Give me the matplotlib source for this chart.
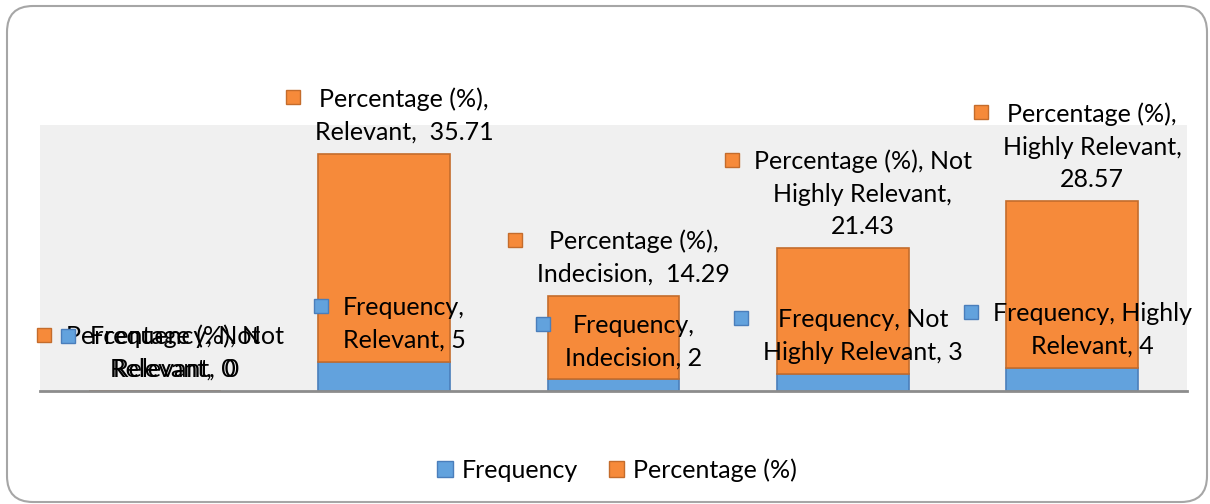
import textwrap
import matplotlib
matplotlib.use("Agg")
import matplotlib.pyplot as plt
from matplotlib.patches import Patch, Rectangle, FancyBboxPatch
from matplotlib.transforms import IdentityTransform

categories = ["Not Relevant", "Relevant", "Indecision", "Not Highly Relevant", "Highly Relevant"]
frequency = [0, 5, 2, 3, 4]
percentage = [0, 35.71, 14.29, 21.43, 28.57]
series_names = ["Frequency", "Percentage (%)"]

BLUE, BLUE_EDGE = "#62A2DD", "#4A7EBB"
ORANGE, ORANGE_EDGE = "#F68A3A", "#C46C2C"
FONT = "Lato"
FS = 18

# characters per line when wrapping each data label
freq_wrap = [14, 11, 13, 18, 17]
pct_wrap = [19, 16, 18, 19, 16]

W, H = 1210, 504
fig = plt.figure(figsize=(W / 100, H / 100), dpi=100)
ax = fig.add_axes([40 / W, (H - 391) / H, (1187 - 40) / W, (391 - 125) / H])
ax.set_facecolor("#F0F0F0")

xs = list(range(len(categories)))
ax.bar(xs, frequency, width=0.575, color=BLUE, edgecolor=BLUE_EDGE, linewidth=1.2, zorder=2)
ax.bar(xs, percentage, bottom=frequency, width=0.575, color=ORANGE,
       edgecolor=ORANGE_EDGE, linewidth=1.2, zorder=2)
ax.set_xlim(-0.5, len(categories) - 0.5)
ax.set_ylim(0, 45.6)
ax.set_xticks([])
ax.set_yticks([])
for side in ("top", "left", "right"):
    ax.spines[side].set_visible(False)
ax.spines["bottom"].set_color("#8C8C8C")
ax.spines["bottom"].set_linewidth(2)
ax.spines["bottom"].set_zorder(3)

labels = []
for i, cat in enumerate(categories):
    f = frequency[i]
    p = percentage[i]
    ftxt = textwrap.fill(f"{series_names[0]}, {cat}, {f:g}", width=freq_wrap[i])
    ptxt = textwrap.fill(f"{series_names[1]}, {cat},  {p:g}", width=pct_wrap[i])
    for txt, ytop, col, ecol in ((ftxt, f, BLUE, BLUE_EDGE), (ptxt, f + p, ORANGE, ORANGE_EDGE)):
        t = ax.annotate(txt, xy=(i, ytop), xytext=(20, 10), textcoords="offset pixels",
                        ha="center", va="bottom", multialignment="center",
                        fontsize=FS, family=FONT, color="black", linespacing=1.5, zorder=5,
                        annotation_clip=False)
        labels.append((t, col, ecol))

fig.canvas.draw()
renderer = fig.canvas.get_renderer()
for t, col, ecol in labels:
    bb = t.get_window_extent(renderer)
    cx, cy = bb.x0 - 22, bb.y1 - 10
    sq = Rectangle((cx - 7, cy - 7), 14, 14, facecolor=col, edgecolor=ecol,
                   linewidth=1, transform=IdentityTransform(), zorder=6)
    fig.add_artist(sq)

handles = [Patch(facecolor=BLUE, edgecolor=BLUE_EDGE, label=series_names[0]),
           Patch(facecolor=ORANGE, edgecolor=ORANGE_EDGE, label=series_names[1])]
fig.legend(handles=handles, loc="center", bbox_to_anchor=(617 / W, (H - 470) / H),
           ncol=2, frameon=False, prop={"family": FONT, "size": FS},
           handlelength=0.62, handleheight=0.62, handletextpad=0.35, columnspacing=1.25)

border = FancyBboxPatch((7, 2), 1200, 496, boxstyle="round,pad=0,rounding_size=26",
                        facecolor="none", edgecolor="#A6A6A6", linewidth=1.5,
                        transform=IdentityTransform())
fig.add_artist(border)

fig.savefig("out.png", dpi=100)
